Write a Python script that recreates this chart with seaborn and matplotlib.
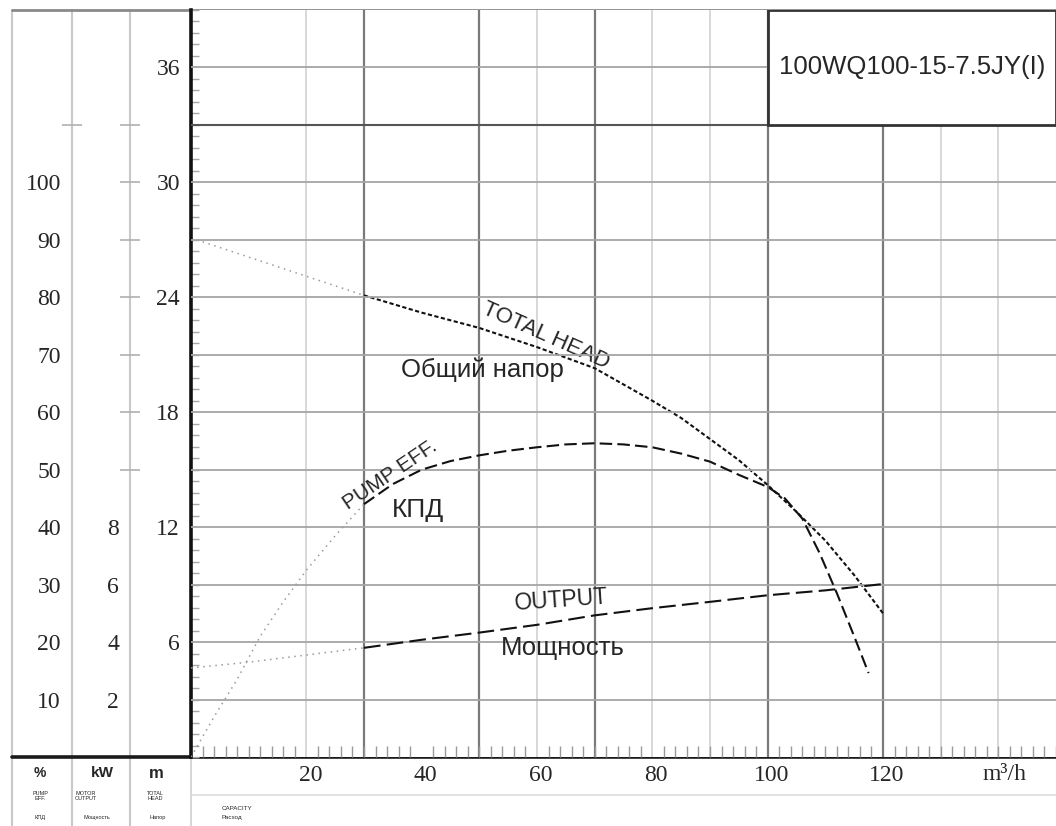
import matplotlib.pyplot as plt
import matplotlib.ticker as mticker
import matplotlib.transforms as mtransforms
import pandas as pd
import seaborn as sns
from matplotlib.patches import Rectangle

# values (flow in m3/h)
head_flow = [0, 10, 20, 30, 40, 50, 60, 70, 80, 85, 90, 95, 100, 105, 110, 115, 120]
head_m = [27.1, 26.1, 25.1, 24.1, 23.2, 22.4, 21.4, 20.3, 18.6, 17.7, 16.6, 15.5, 14.2, 12.8, 11.3, 9.5, 7.5]

eff_flow = [0, 4, 8, 12, 16, 20, 25, 30, 35, 40, 45, 50, 55, 60, 65, 70, 75, 80, 85, 90, 95,
            100, 103, 106, 109, 112, 115, 117.5]
eff_pct = [0, 7, 13.5, 21, 27, 32.5, 38.5, 44, 47.5, 50, 51.5, 52.5, 53.3, 53.9, 54.4, 54.6, 54.4,
           53.9, 52.8, 51.4, 49.1, 47.0, 45.0, 41.5, 35.5, 28.5, 21.0, 14.6]

power_flow = [0, 10, 20, 30, 40, 50, 60, 70, 80, 90, 100, 110, 120]
power_kw = [3.1, 3.3, 3.55, 3.8, 4.08, 4.33, 4.6, 4.93, 5.18, 5.4, 5.63, 5.8, 6.02]

flow_ticks = [20, 40, 60, 80, 100, 120]
head_ticks = [6, 12, 18, 24, 30, 36]
pct_labels = [10, 20, 30, 40, 50, 60, 70, 80, 90, 100]
pct_marks = [20, 30, 50, 60, 70, 80, 90, 100, 110]
kw_labels = [2, 4, 6, 8]
grid_dark = [30, 50, 70, 100, 120]
grid_light = [20, 60, 80, 90, 130, 140]
model = '100WQ100-15-7.5JY(I)'

# curve below 30 m3/h is drawn faint on the sheet
MEASURED_FROM = 30


def split(flow, values):
    df = pd.DataFrame({'flow': flow, 'value': values})
    return df[df['flow'] <= MEASURED_FROM], df[df['flow'] >= MEASURED_FROM]


sns.set_theme(style='white')
plt.rcParams['font.family'] = ['Liberation Sans', 'DejaVu Sans']
serif = ['Liberation Serif', 'DejaVu Serif']

W, H = 1056, 826
fig = plt.figure(figsize=(W / 100, H / 100), dpi=100)

# background layer for the sheet frame, in pixel units
bg = fig.add_axes([0, 0, 1, 1], zorder=-5)
bg.set_xlim(0, W)
bg.set_ylim(H, 0)
bg.axis('off')
for x in [12, 72, 130]:
    bg.plot([x, x], [10, H], color='#c8c8c8', lw=1.5)
bg.plot([191, 191], [757, H], color='#d0d0d0', lw=1.2)
bg.plot([12, W], [10, 10], color='#8a8a8a', lw=2)
bg.plot([191, W], [795, 795], color='#dddddd', lw=1.2)
bg.plot([12, W], [757, 757], color='#1a1a1a', lw=2.6)

bg.text(40, 773, '%', ha='center', va='center', fontsize=10, fontweight='bold')
bg.text(102, 773, 'kW', ha='center', va='center', fontsize=11, fontweight='bold')
bg.text(156, 773, 'm', ha='center', va='center', fontsize=12, fontweight='bold')
small = dict(ha='center', va='center', fontsize=4, linespacing=0.9)
bg.text(40, 796, 'PUMP\nEFF.', **small)
bg.text(40, 817, 'КПД', **small)
bg.text(86, 796, 'MOTOR\nOUTPUT', **small)
bg.text(97, 817, 'Мощность', **small)
bg.text(155, 796, 'TOTAL\nHEAD', **small)
bg.text(158, 817, 'Напор', **small)
bg.text(222, 808, 'CAPACITY', ha='left', va='center', fontsize=4.5)
bg.text(222, 818, 'Расход', ha='left', va='center', fontsize=4.5)

left, bottom = 191 / W, (H - 757) / H
height = (757 - 10) / H
ax = fig.add_axes([left, bottom, 1 - left, height])
ax.set_xlim(0, 150)
ax.set_ylim(0, 39)
ax_eff = ax.twinx()
ax_kw = ax.twinx()

# grid
for q in grid_dark:
    ax.axvline(q, color='#7a7a7a', lw=1.6, zorder=0)
for q in grid_light:
    ax.axvline(q, color='#d2d2d2', lw=1.2, zorder=0)
for p in range(10, 130, 10):
    ax_eff.axhline(p, color='#555555' if p == 110 else '#a5a5a5', lw=1.5 if p == 110 else 1.3, zorder=0)

# model box in the top right corner
ax_eff.add_patch(Rectangle((100, 110), 50, 20, facecolor='white', edgecolor='#333333', lw=2, zorder=3))
ax_eff.text(125, 120, model, ha='center', va='center', fontsize=18.5, zorder=4)

# curves
faint = dict(color='#9a9a9a', lw=1.1, linestyle=(0, (1, 3)))
for target, flow, vals, dash in [
    (ax, head_flow, head_m, (0, (2, 1.2))),
    (ax_eff, eff_flow, eff_pct, (0, (6, 2.5))),
    (ax_kw, power_flow, power_kw, (0, (8, 3))),
]:
    low, high = split(flow, vals)
    sns.lineplot(data=low, x='flow', y='value', ax=target, sort=False, estimator=None, **faint)
    sns.lineplot(data=high, x='flow', y='value', ax=target, sort=False, estimator=None,
                 color='#111111', lw=1.5, linestyle=dash)
for target, lim in [(ax_eff, (0, 130)), (ax_kw, (0, 26))]:
    target.set_ylim(*lim)
    target.set_xlim(0, 150)
    target.axis('off')

# curve captions
ax.text(61.5, 22.0, 'TOTAL HEAD', rotation=-24, ha='center', va='center', fontsize=16)
ax.text(50.5, 20.2, 'Общий напор', ha='center', va='center', fontsize=18.5)
ax_eff.text(34.5, 49, 'PUMP EFF.', rotation=34, ha='center', va='center', fontsize=15)
ax_eff.text(39.3, 43, 'КПД', ha='center', va='center', fontsize=19)
ax_kw.text(64.2, 5.45, 'OUTPUT', rotation=4, ha='center', va='center', fontsize=16.5)
ax_kw.text(64.4, 3.8, 'Мощность', ha='center', va='center', fontsize=18.5)

# axes of the main field
ax.set_xlabel('')
ax.set_ylabel('')
ax.set_xticks(flow_ticks)
ax.set_yticks(head_ticks)
ax.xaxis.set_minor_locator(mticker.MultipleLocator(2))
ax.yaxis.set_minor_locator(mticker.MultipleLocator(0.6))
ax.tick_params(axis='both', which='major', length=0, labelsize=17)
ax.tick_params(axis='x', which='major', pad=6)
ax.tick_params(axis='y', which='major', pad=8)
ax.tick_params(axis='x', which='minor', direction='in', length=8, width=1, color='#9a9a9a', bottom=True)
ax.tick_params(axis='y', which='minor', direction='in', length=6, width=1, color='#a8a8a8', left=True)
for lab in ax.get_xticklabels() + ax.get_yticklabels():
    lab.set_family(serif)
shift = mtransforms.ScaledTranslation(4 / 100, 0, fig.dpi_scale_trans)
for lab in ax.get_xticklabels():
    lab.set_transform(lab.get_transform() + shift)
ax.text(141, -0.009, 'm³/h', transform=ax.get_xaxis_transform(), ha='center', va='top',
        fontsize=17, family=serif)
for side in ['top', 'right', 'bottom']:
    ax.spines[side].set_visible(False)
ax.spines['left'].set_color('#111111')
ax.spines['left'].set_linewidth(2.6)

# side scales: percent and kW
for x0, x1, top, labels, marks in [
    (72, 130, 130, pct_labels, pct_marks),
    (130, 191, 26, kw_labels, [m / 5 for m in pct_marks]),
]:
    side = fig.add_axes([x0 / W, bottom, (x1 - x0) / W, height])
    side.set_ylim(0, top)
    side.set_xlim(0, 1)
    side.patch.set_visible(False)
    for s in side.spines.values():
        s.set_visible(False)
    side.set_xticks([])
    side.set_yticks(labels)
    side.set_yticks(marks, minor=True)
    side.tick_params(axis='y', which='major', length=0, pad=8, labelsize=17)
    side.tick_params(axis='y', which='minor', direction='inout', length=14, width=1.2,
                     color='#b0b0b0', left=True)
    for lab in side.get_yticklabels():
        lab.set_family(serif)

fig.savefig('out.png', dpi=100)
